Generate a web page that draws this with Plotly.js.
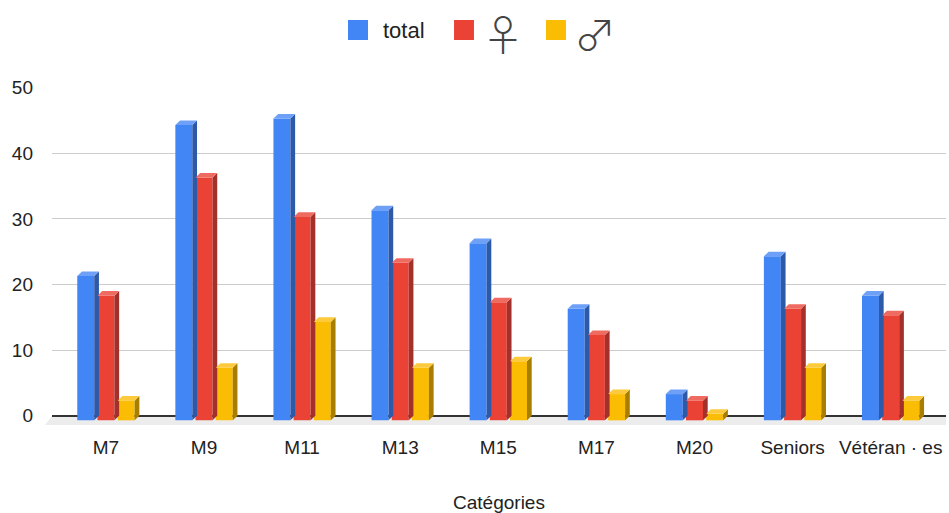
<!DOCTYPE html>
<html><head><meta charset="utf-8">
<script src="https://cdn.plot.ly/plotly-3.0.1.min.js"></script>
<style>html,body{margin:0;padding:0;background:#fff}#chart{width:949px;height:513px}</style>
</head><body><div id="chart"></div>
<script>
const categories = ['M7','M9','M11','M13','M15','M17','M20','Seniors','Vétéran · es'];
const seriesNames = ['total','♀','♂'];
const totalValues = [22,45,46,32,27,17,4,25,19];
const femaleValues = [19,37,31,24,18,13,3,17,16];
const maleValues = [3,8,15,8,9,4,1,8,3];
const yTicks = [0,10,20,30,40,50];

const frontColors = ['#4285F4','#EA4335','#FBBC04'];
const sideColors = ['#2D5AA8','#A3302A','#A87E00'];
const topColors = ['#6FA0F7','#EF6B61','#FCCA3C'];

const BAR_W = 0.173, STEP = 0.206, DX = 0.048, DY = 0.69;
const series = [totalValues, femaleValues, maleValues];
const idx = categories.map((c, i) => i);
const traces = [];

series.forEach((vals, k) => {
  const xc = idx.map(i => i + (k - 1) * STEP);
  traces.push({type:'bar', name:seriesNames[k], x:xc, y:vals, base:vals.map(() => -DY), width:BAR_W,
    marker:{color:frontColors[k], line:{width:0}}, showlegend:false, hoverinfo:'skip'});
  const sx = [], sy = [], tx = [], ty = [];
  vals.forEach((v, i) => {
    const l = xc[i] - BAR_W / 2, r = xc[i] + BAR_W / 2;
    sx.push(r, r + DX, r + DX, r, r, null);
    sy.push(-DY, 0, v, v - DY, -DY, null);
    tx.push(l, r, r + DX, l + DX, l, null);
    ty.push(v - DY, v - DY, v, v, v - DY, null);
  });
  traces.push({type:'scatter', mode:'lines', x:sx, y:sy, fill:'toself', fillcolor:sideColors[k],
    line:{width:0, color:'rgba(0,0,0,0)'}, showlegend:false, hoverinfo:'skip'});
  traces.push({type:'scatter', mode:'lines', x:tx, y:ty, fill:'toself', fillcolor:topColors[k],
    line:{width:0, color:'rgba(0,0,0,0)'}, showlegend:false, hoverinfo:'skip'});
});

// Legend (drawn as layout decoration, top centre)
const legendSquaresX = [[0.3311, 0.3535], [0.4497, 0.4720], [0.5526, 0.5749]];
const legendShapes = legendSquaresX.map((xr, k) => ({
  type:'rect', xref:'paper', yref:'paper', x0:xr[0], x1:xr[1], y0:1.1391, y1:1.1982,
  fillcolor:frontColors[k], line:{width:0}, layer:'above'
}));
const symFont = {family:'"Noto Sans CJK JP", "DejaVu Sans", sans-serif', size:42, weight:300, color:'#444'};
const legendAnnotations = [
  {text:seriesNames[0], x:0.3680, xanchor:'left', y:1.1686, yanchor:'middle',
   font:{size:22, color:'#222'}},
  {text:seriesNames[1], x:0.5045, xanchor:'center', y:1.1612, yanchor:'middle', font:symFont},
  {text:seriesNames[2], x:0.6074, xanchor:'center', y:1.1612, yanchor:'middle', font:symFont}
].map(a => Object.assign({xref:'paper', yref:'paper', showarrow:false}, a));

const layout = {
  width:949, height:513,
  margin:{l:52, r:3, t:87, b:88},
  paper_bgcolor:'#fff', plot_bgcolor:'#fff',
  font:{family:'"Liberation Sans", Arial, sans-serif', color:'#222'},
  barmode:'overlay',
  showlegend:false,
  xaxis:{type:'linear', range:[-0.55, 8.564], tickvals:idx, ticktext:categories,
    showgrid:false, zeroline:false, showline:false, ticks:'', fixedrange:true,
    tickfont:{size:19, color:'#222'}, ticklabelstandoff:9,
    title:{text:'Catégories', font:{size:19, color:'#222'}, standoff:38}},
  yaxis:{range:[-1.4, 50.1], tickvals:yTicks, showgrid:true, gridcolor:'#cccccc', gridwidth:1,
    zeroline:true, zerolinecolor:'#333333', zerolinewidth:1.5, showline:false, ticks:'',
    tickfont:{size:19, color:'#222'}, ticklabelstandoff:18, fixedrange:true},
  shapes:[{type:'path', xref:'paper', yref:'paper', layer:'below',
    path:'M 0 0.0272 L 1 0.0272 L 1 0 L -0.0078 0 Z', fillcolor:'#ececec', line:{width:0}}]
    .concat(legendShapes),
  annotations:legendAnnotations
};

Plotly.newPlot('chart', traces, layout, {displayModeBar:false, staticPlot:true});
</script></body></html>
